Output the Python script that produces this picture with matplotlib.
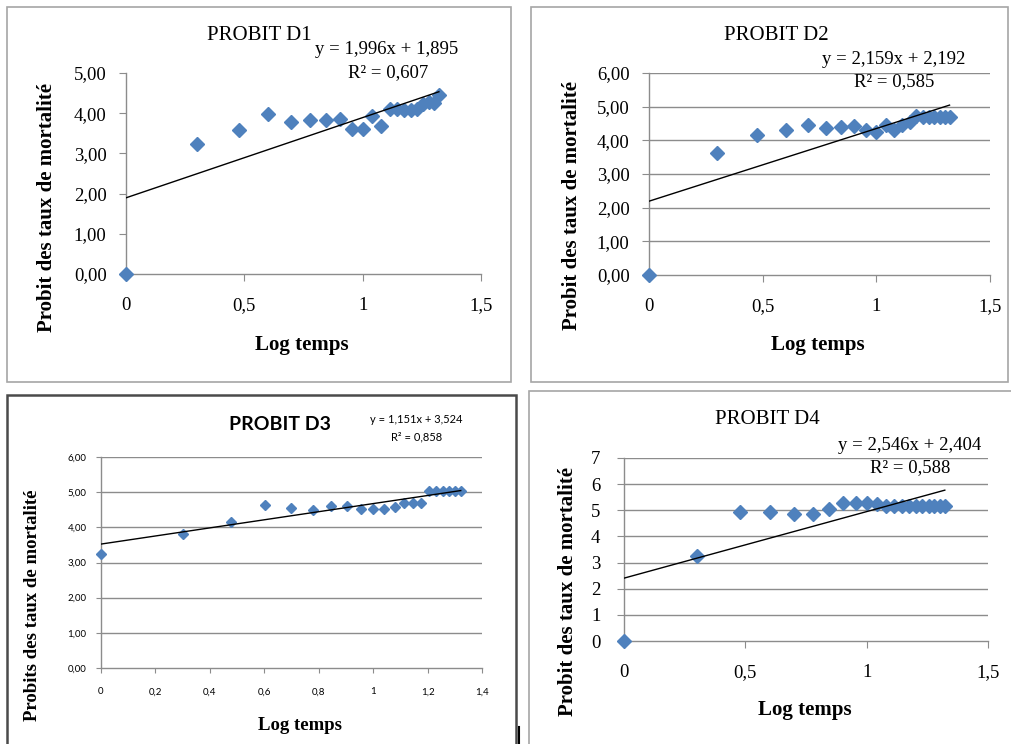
import numpy as np
import matplotlib.pyplot as plt
from matplotlib.patches import Rectangle
from matplotlib.lines import Line2D

# log(temps) values, same for the four series
log_t = [0, 0.301, 0.477, 0.602, 0.699, 0.778, 0.845, 0.903, 0.954, 1.0, 1.041,
         1.079, 1.114, 1.146, 1.176, 1.204, 1.230, 1.255, 1.279, 1.301, 1.322]

d1 = [0, 3.23, 3.57, 3.99, 3.79, 3.84, 3.84, 3.85, 3.61, 3.61, 3.92,
      3.67, 4.10, 4.10, 4.08, 4.08, 4.10, 4.22, 4.28, 4.25, 4.45]
d2 = [0, 3.61, 4.17, 4.32, 4.47, 4.38, 4.40, 4.42, 4.30, 4.26, 4.45,
      4.30, 4.45, 4.55, 4.72, 4.70, 4.70, 4.70, 4.70, 4.70, 4.70]
d3 = [3.24, 3.81, 4.16, 4.63, 4.56, 4.49, 4.61, 4.60, 4.52, 4.52, 4.52,
      4.57, 4.68, 4.68, 4.68, 5.03, 5.03, 5.03, 5.03, 5.03, 5.03]
d4 = [0, 3.27, 4.95, 4.95, 4.86, 4.86, 5.05, 5.27, 5.26, 5.26, 5.25,
      5.18, 5.18, 5.18, 5.18, 5.18, 5.18, 5.18, 5.18, 5.18, 5.18]

# trend lines as printed on the chart
slopes = [1.996, 2.159, 1.151, 2.546]
intercepts = [1.895, 2.192, 3.524, 2.404]
eq_text = ["y = 1,996x + 1,895", "y = 2,159x + 2,192", "y = 1,151x + 3,524", "y = 2,546x + 2,404"]
r2_text = ["R² = 0,607", "R² = 0,585", "R² = 0,858", "R² = 0,588"]
titles = ["PROBIT D1", "PROBIT D2", "PROBIT D3", "PROBIT D4"]

xt_15 = [0, 0.5, 1, 1.5]
xtl_15 = ["0", "0,5", "1", "1,5"]
xt_14 = [0, 0.2, 0.4, 0.6, 0.8, 1.0, 1.2, 1.4]
xtl_14 = ["0", "0,2", "0,4", "0,6", "0,8", "1", "1,2", "1,4"]
yt_5 = [0, 1, 2, 3, 4, 5]
yt_6 = [0, 1, 2, 3, 4, 5, 6]
yt_7 = [0, 1, 2, 3, 4, 5, 6, 7]

W, H = 1012, 744
fig = plt.figure(figsize=(W / 100, H / 100), dpi=100)
fig.patch.set_facecolor("white")

SERIF = "Liberation Serif"
SANS = "Lato"
BLUE = "#4F81BD"
GRID = "#8C8C8C"


def frac(x0, y0, x1, y1):
    return [x0 / W, 1 - y1 / H, (x1 - x0) / W, (y1 - y0) / H]


def ftext(x, y, s, **kw):
    fig.text(x / W, 1 - y / H, s, ha="center", va="center", **kw)


# panel frames
fig.patches.append(Rectangle((7 / W, 1 - 382 / H), 504 / W, 375 / H, transform=fig.transFigure,
                             fill=False, ec="#A6A6A6", lw=1.2))
fig.patches.append(Rectangle((531 / W, 1 - 382 / H), 477 / W, 375 / H, transform=fig.transFigure,
                             fill=False, ec="#A6A6A6", lw=1.2))
fig.patches.append(Rectangle((7 / W, 1 - 760 / H), 509 / W, 365 / H, transform=fig.transFigure,
                             fill=False, ec="#4A4A4A", lw=1.8))
fig.patches.append(Rectangle((529 / W, 1 - 760 / H), 500 / W, 369 / H, transform=fig.transFigure,
                             fill=False, ec="#A6A6A6", lw=1.2))
fig.lines.append(Line2D([519 / W, 519 / W], [1 - 744 / H, 1 - 727 / H], transform=fig.transFigure,
                        color="black", lw=1.5))


def panel(rect, y, k, xlim, xt, xtl, ylim, yt, ytl, grid, ms, tick_font, tick_size,
          tick_len, xpad, ypad):
    ax = fig.add_axes(frac(*rect))
    ax.set_xlim(*xlim)
    ax.set_ylim(*ylim)
    ax.plot(log_t, y, "D", color=BLUE, ms=ms, mec=BLUE, zorder=3, clip_on=False)
    xl = np.array([0, max(log_t)])
    ax.plot(xl, slopes[k] * xl + intercepts[k], color="black", lw=1.0, zorder=4)
    for s in ["top", "right"]:
        ax.spines[s].set_visible(False)
    for s in ["left", "bottom"]:
        ax.spines[s].set_color(GRID)
        ax.spines[s].set_linewidth(1.0)
    if grid:
        for v in yt[1:]:
            ax.axhline(v, color=GRID, lw=1.0, zorder=1)
    ax.set_xticks(xt)
    ax.set_xticklabels(xtl, fontfamily=tick_font, fontsize=tick_size)
    ax.set_yticks(yt)
    ax.set_yticklabels(ytl, fontfamily=tick_font, fontsize=tick_size)
    ax.tick_params(axis="x", direction="out", length=tick_len, color=GRID, pad=xpad)
    ax.tick_params(axis="y", direction="out", length=tick_len, color=GRID, pad=ypad)
    ax.set_facecolor("none")
    return ax


ytl_5 = ["0,00", "1,00", "2,00", "3,00", "4,00", "5,00"]
ytl_6 = ["0,00", "1,00", "2,00", "3,00", "4,00", "5,00", "6,00"]
ytl_7 = [str(v) for v in yt_7]

# D1
panel((126, 73, 481, 274), d1, 0, (0, 1.5), xt_15, xtl_15, (0, 5), yt_5, ytl_5,
      False, 7.5, SERIF, 13.5, 5, 11.5, 9)
ftext(259, 35, titles[0], fontfamily=SERIF, fontsize=15)
ftext(387, 50, eq_text[0], fontfamily=SERIF, fontsize=13.5)
ftext(388, 73, r2_text[0], fontfamily=SERIF, fontsize=13.5)
ftext(47, 207, "Probit des taux de mortalité", fontfamily=SERIF, fontsize=15,
      fontweight="bold", rotation=90)
ftext(302, 345, "Log temps", fontfamily=SERIF, fontsize=15, fontweight="bold")

# D2
panel((649, 73, 990, 275), d2, 1, (0, 1.5), xt_15, xtl_15, (0, 6), yt_6, ytl_6,
      True, 7, SERIF, 13.5, 5, 11.5, 9)
ftext(776, 35, titles[1], fontfamily=SERIF, fontsize=15)
ftext(894, 59, eq_text[1], fontfamily=SERIF, fontsize=13.5)
ftext(894, 82, r2_text[1], fontfamily=SERIF, fontsize=13.5)
ftext(572, 205, "Probit des taux de mortalité", fontfamily=SERIF, fontsize=15,
      fontweight="bold", rotation=90)
ftext(818, 345, "Log temps", fontfamily=SERIF, fontsize=15, fontweight="bold")

# D3
panel((101, 457, 482, 668), d3, 2, (0, 1.4), xt_14, xtl_14, (0, 6), yt_6, ytl_6,
      True, 4.6, SANS, 7, 3.5, 10.5, 7)
ftext(280, 424, titles[2], fontfamily=SANS, fontsize=14, fontweight="bold")
ftext(416, 419, eq_text[2], fontfamily=SANS, fontsize=8)
ftext(417, 437, r2_text[2], fontfamily=SANS, fontsize=8)
ftext(33, 605, "Probits des taux de mortalité", fontfamily=SERIF, fontsize=13.5,
      fontweight="bold", rotation=90)
ftext(300, 725, "Log temps", fontfamily=SERIF, fontsize=13.5, fontweight="bold")

# D4
panel((624, 458, 988, 641), d4, 3, (0, 1.5), xt_15, xtl_15, (0, 7), yt_7, ytl_7,
      True, 7.5, SERIF, 13.5, 5, 11.5, 12)
ftext(767, 419, titles[3], fontfamily=SERIF, fontsize=15)
ftext(910, 445, eq_text[3], fontfamily=SERIF, fontsize=13.5)
ftext(910, 468, r2_text[3], fontfamily=SERIF, fontsize=13.5)
ftext(568, 592, "Probit des taux de mortalité", fontfamily=SERIF, fontsize=15,
      fontweight="bold", rotation=90)
ftext(805, 710, "Log temps", fontfamily=SERIF, fontsize=15, fontweight="bold")

fig.savefig("out.png", dpi=100)
